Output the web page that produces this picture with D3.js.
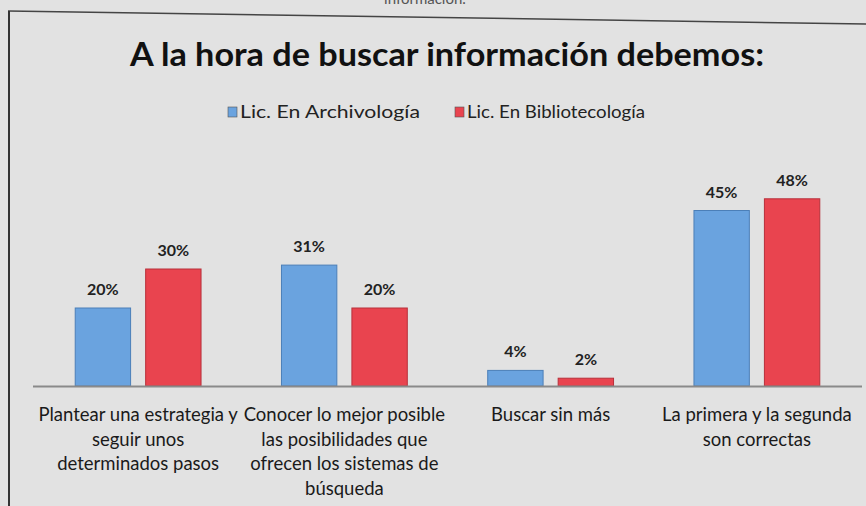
<!DOCTYPE html>
<html>
<head>
<meta charset="utf-8">
<script src="https://cdn.jsdelivr.net/npm/d3@7"></script>
<style>
  html, body { margin: 0; padding: 0; background: #e2e2e2; }
  svg { display: block; font-family: Lato, "Noto Sans", sans-serif; }
</style>
</head>
<body>
<div id="chart"></div>
<script>
// chart data
const categories = [
  "Plantear una estrategia y seguir unos determinados pasos",
  "Conocer lo mejor posible las posibilidades que ofrecen los sistemas de búsqueda",
  "Buscar sin más",
  "La primera y la segunda son correctas"
]
// how the tick labels wrap in the original
const categoryLines = [
  ["Plantear una estrategia y", "seguir unos", "determinados pasos"],
  ["Conocer lo mejor posible", "las posibilidades que", "ofrecen los sistemas de", "búsqueda"],
  ["Buscar sin más"],
  ["La primera y la segunda", "son correctas"]
]
const seriesNames = ["Lic. En Archivología", "Lic. En Bibliotecología"]
const archivologia = [20, 31, 4, 45]
const bibliotecologia = [30, 20, 2, 48]
const colors = ["#6aa3df", "#e9444f"]

const width = 866, height = 506
const baseY = 386

const svg = d3.select("#chart").append("svg")
  .attr("width", width)
  .attr("height", height)

// frame of the printed chart
svg.append("rect").attr("width", width).attr("height", height).attr("fill", "#e2e2e2")
svg.append("text")
  .attr("x", 425).attr("y", 4)
  .attr("text-anchor", "middle")
  .attr("font-size", 15).attr("fill", "#555")
  .text("información.")
svg.append("line")
  .attr("x1", 8).attr("y1", 11).attr("x2", width).attr("y2", 24)
  .attr("stroke", "#444").attr("stroke-width", 1.5)
svg.append("line")
  .attr("x1", 9).attr("y1", 11).attr("x2", 9).attr("y2", height)
  .attr("stroke", "#333").attr("stroke-width", 2)

svg.append("text")
  .attr("x", 447).attr("y", 66)
  .attr("text-anchor", "middle")
  .attr("font-size", 32).attr("font-weight", "bold").attr("fill", "#111")
  .attr("textLength", 634).attr("lengthAdjust", "spacingAndGlyphs")
  .text("A la hora de buscar información debemos:")

// legend
const legendX = [228, 455]
const legendW = [180, 178]
seriesNames.forEach((name, i) => {
  const g = svg.append("g").attr("transform", `translate(${legendX[i]},112)`)
  g.append("rect").attr("x", 0).attr("y", -5).attr("width", 9).attr("height", 10)
    .attr("fill", colors[i]).attr("stroke", "#555").attr("stroke-width", 0.6)
  g.append("text").attr("x", 12).attr("y", 6)
    .attr("font-size", 18).attr("fill", "#222")
    .attr("textLength", legendW[i]).attr("lengthAdjust", "spacingAndGlyphs")
    .text(name)
})

const x0 = d3.scaleBand()
  .domain(categories)
  .range([35, 860])
  .paddingInner(0.39)
  .paddingOuter(0.195)

const x1 = d3.scaleBand()
  .domain(seriesNames)
  .range([0, x0.bandwidth()])
  .paddingInner(0.214)

const y = d3.scaleLinear()
  .domain([0, 50])
  .range([baseY, baseY - 195])

const rows = categories.map((c, i) => ({
  cat: c,
  vals: [archivologia[i], bibliotecologia[i]]
}))

const groups = svg.selectAll(".grp").data(rows).enter().append("g")
  .attr("class", "grp")
  .attr("transform", d => `translate(${x0(d.cat)},0)`)

groups.selectAll("rect").data(d => d.vals.map((v, j) => ({ v, s: seriesNames[j], j })))
  .enter().append("rect")
  .attr("x", d => x1(d.s))
  .attr("y", d => y(d.v))
  .attr("width", x1.bandwidth())
  .attr("height", d => baseY - y(d.v))
  .attr("fill", d => colors[d.j])
  .attr("stroke", d => d.j === 0 ? "#4b7fb8" : "#b8303a")
  .attr("stroke-width", 1)

groups.selectAll(".lbl").data(d => d.vals.map((v, j) => ({ v, s: seriesNames[j] })))
  .enter().append("text")
  .attr("class", "lbl")
  .attr("x", d => x1(d.s) + x1.bandwidth() / 2)
  .attr("y", d => y(d.v) - 13)
  .attr("text-anchor", "middle")
  .attr("font-size", 16).attr("font-weight", "bold").attr("fill", "#222")
  .text(d => d.v + "%")

// category axis
const axis = svg.append("g")
  .attr("transform", `translate(0,${baseY})`)
  .call(d3.axisBottom(x0).tickSize(0).tickPadding(0))
axis.select(".domain").remove()
svg.append("line")
  .attr("x1", 33).attr("x2", 862).attr("y1", baseY + 0.5).attr("y2", baseY + 0.5)
  .attr("stroke", "#8a8a8a").attr("stroke-width", 2)

axis.selectAll(".tick text").each(function(d, i) {
  const t = d3.select(this).text(null)
    .attr("font-size", 18.5).attr("fill", "#1a1a1a")
    .attr("font-family", "Lato, 'Noto Sans', sans-serif")
    .attr("y", 0).attr("dy", null)
  categoryLines[i].forEach((line, k) => {
    t.append("tspan").attr("x", 0).attr("y", 35 + k * 24.7).text(line)
  })
})
</script>
</body>
</html>
